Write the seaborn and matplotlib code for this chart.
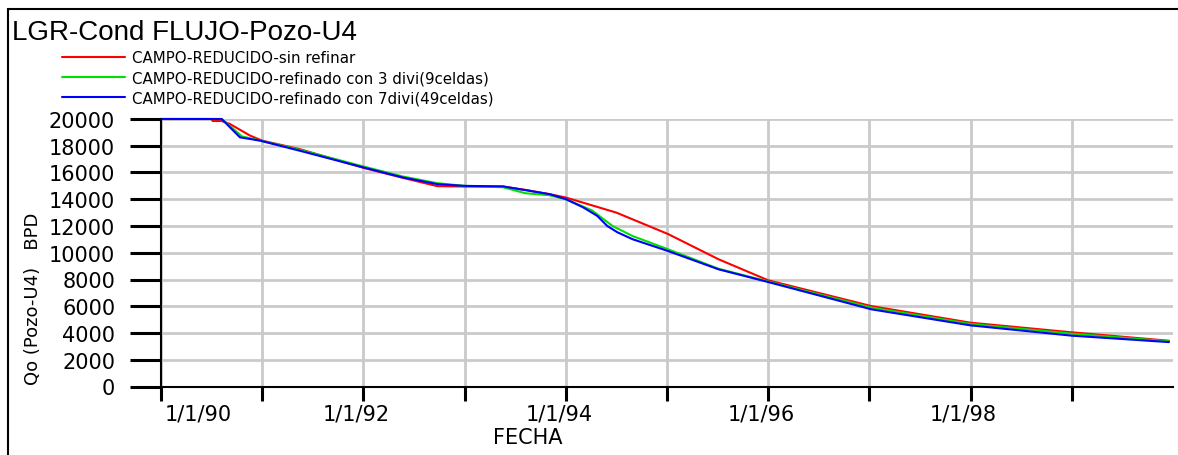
import numpy as np
import pandas as pd
import matplotlib
matplotlib.use("Agg")
import matplotlib.pyplot as plt
from matplotlib.patches import Rectangle
from matplotlib.transforms import ScaledTranslation
import seaborn as sns

# --- data (decimal years, oil rate in BPD) ---
series_names = [
    "CAMPO-REDUCIDO-sin refinar",
    "CAMPO-REDUCIDO-refinado con 3 divi(9celdas)",
    "CAMPO-REDUCIDO-refinado con 7divi(49celdas)",
]

years_sin_refinar = [1990.0, 1990.50, 1990.51, 1990.60, 1990.68, 1990.88, 1991.0, 1991.37,
                     1992.0, 1992.39, 1992.73, 1993.0, 1993.38, 1993.6, 1993.84, 1994.0,
                     1994.5, 1995.01, 1995.51, 1996.0, 1997.02, 1998.0, 1999.0, 1999.96]
qo_sin_refinar = [20000, 20000, 19850, 19850, 19630, 18760, 18380, 17750,
                  16350, 15600, 14980, 14950, 14950, 14700, 14380, 14130,
                  13000, 11400, 9510, 7940, 6010, 4770, 4050, 3420]

years_3divi = [1990.0, 1990.60, 1990.80, 1991.0, 1991.37, 1992.0, 1992.39, 1992.73,
               1993.0, 1993.38, 1993.6, 1993.84, 1994.0, 1994.26, 1994.46, 1994.66,
               1995.01, 1995.51, 1996.0, 1997.02, 1998.0, 1999.0, 1999.96]
qo_3divi = [20000, 20000, 18700, 18350, 17700, 16450, 15700, 15200,
            15000, 14900, 14450, 14300, 14000, 13160, 12010, 11250,
            10260, 8800, 7850, 5900, 4680, 3950, 3380]

years_7divi = [1990.0, 1990.60, 1990.78, 1990.98, 1991.37, 1992.0, 1992.39, 1992.73,
               1993.0, 1993.38, 1993.84, 1994.0, 1994.17, 1994.31, 1994.41, 1994.51,
               1994.66, 1995.01, 1995.51, 1996.0, 1997.02, 1998.0, 1999.0, 1999.96]
qo_7divi = [20000, 20000, 18630, 18380, 17630, 16380, 15630, 15130,
            15000, 14960, 14380, 14010, 13400, 12760, 12000, 11530,
            11010, 10130, 8760, 7810, 5770, 4570, 3800, 3320]

year_ticks = [1990, 1991, 1992, 1993, 1994, 1995, 1996, 1997, 1998, 1999]
year_labels = ["1/1/90", "", "1/1/92", "", "1/1/94", "", "1/1/96", "", "1/1/98", ""]
qo_ticks = [0, 2000, 4000, 6000, 8000, 10000, 12000, 14000, 16000, 18000, 20000]

colors = ["#ff0000", "#00e000", "#0000ff"]

df = pd.concat([
    pd.DataFrame({"fecha": years_sin_refinar, "qo": qo_sin_refinar, "serie": series_names[0]}),
    pd.DataFrame({"fecha": years_3divi, "qo": qo_3divi, "serie": series_names[1]}),
    pd.DataFrame({"fecha": years_7divi, "qo": qo_7divi, "serie": series_names[2]}),
], ignore_index=True)

# --- figure ---
sns.set_style("white")
plt.rcParams["font.family"] = ["DejaVu Sans"]
plt.rcParams["text.color"] = "black"
plt.rcParams["axes.labelcolor"] = "black"
plt.rcParams["xtick.color"] = "black"
plt.rcParams["ytick.color"] = "black"

W, H, DPI = 1178, 456, 100
fig = plt.figure(figsize=(W / DPI, H / DPI), dpi=DPI)
ax = fig.add_axes([161 / W, 1 - 387.5 / H, (1173 - 161) / W, (387.5 - 120) / H])

sns.lineplot(data=df, x="fecha", y="qo", hue="serie", palette=colors,
             hue_order=series_names, estimator=None, sort=False,
             linewidth=1.5, ax=ax, legend=True)
for ln in ax.get_lines():
    ln.set_clip_on(False)

ax.set_xlim(1990, 2000)
ax.set_ylim(0, 20000)

ax.set_xticks(year_ticks)
ax.set_xticklabels(year_labels)
ax.set_yticks(qo_ticks)
ax.set_yticklabels([str(v) for v in qo_ticks])

ax.grid(True, color="#cacaca", linewidth=2.0, linestyle="-")
ax.set_axisbelow(True)

for side in ("top", "right"):
    ax.spines[side].set_visible(False)
for side in ("left", "bottom"):
    ax.spines[side].set_color("black")
    ax.spines[side].set_linewidth(1.5)

ax.tick_params(axis="y", left=True, direction="out", length=22, width=2.2,
               color="black", labelcolor="black", pad=11, labelsize=15)
ax.tick_params(axis="x", bottom=True, direction="out", length=10, width=2.2,
               color="black", labelcolor="black", pad=2, labelsize=15)

# first date label sits to the right of its tick, the rest slightly left
xt = ax.get_xticklabels()
xt[0].set_ha("left")
xt[0].set_transform(xt[0].get_transform() + ScaledTranslation(4 / DPI, 0, fig.dpi_scale_trans))
for lab in xt[1:]:
    lab.set_transform(lab.get_transform() + ScaledTranslation(-7 / DPI, 0, fig.dpi_scale_trans))

ax.set_xlabel("")
ax.set_ylabel("")
fig.text(528 / W, 1 - 438 / H, "FECHA", ha="center", va="center", fontsize=15)
fig.text(33 / W, 1 - 299 / H, "Qo (Pozo-U4)   BPD", rotation=90,
         ha="center", va="center", fontsize=13)

# title
fig.text(12 / W, 1 - 40 / H, "LGR-Cond FLUJO-Pozo-U4", ha="left", va="baseline",
         fontsize=20, family=["Liberation Sans", "DejaVu Sans"])

# legend above the plot area
sns.move_legend(ax, "upper left", bbox_to_anchor=(62 / W, 1 - 51 / H),
                bbox_transform=fig.transFigure, title=None, frameon=False,
                fontsize=10.8, handlelength=4.2, handletextpad=0.5,
                labelspacing=0.35, borderpad=0, borderaxespad=0)
leg = ax.get_legend()
for h in leg.legend_handles:
    h.set_linewidth(1.5)
for t in leg.get_texts():
    t.set_color("black")

# outer frame (left and top edges)
fig.add_artist(Rectangle((7.5 / W, -0.5), 1.5, 1.5 - 10 / H, transform=fig.transFigure,
                         fill=False, edgecolor="black", linewidth=1.5))

fig.savefig("out.png", dpi=DPI)
